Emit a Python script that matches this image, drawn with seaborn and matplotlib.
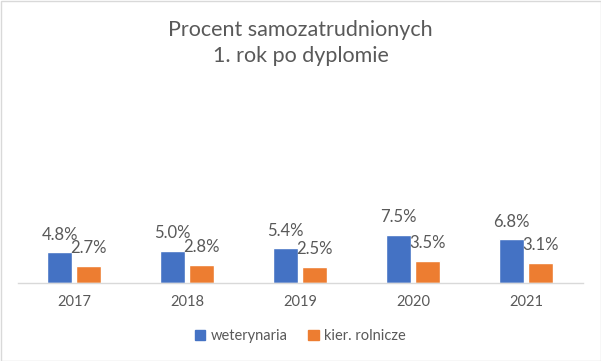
import matplotlib
matplotlib.use("Agg")
import matplotlib.pyplot as plt
import seaborn as sns
import pandas as pd
from matplotlib.patches import Rectangle

years = ["2017", "2018", "2019", "2020", "2021"]
weterynaria = [4.8, 5.0, 5.4, 7.5, 6.8]
rolnicze = [2.7, 2.8, 2.5, 3.5, 3.1]
series_names = ["weterynaria", "kier. rolnicze"]
title = "Procent samozatrudnionych\n1. rok po dyplomie"

df = pd.DataFrame({
    "rok": years * 2,
    "wartosc": weterynaria + rolnicze,
    "seria": [series_names[0]] * len(years) + [series_names[1]] * len(years),
})

sns.set_theme(style="white")
plt.rcParams['font.family'] = ['Lato', 'DejaVu Sans']
grey = "#595959"
colors = ["#4472C4", "#ED7D31"]

fig = plt.figure(figsize=(6.01, 3.61), dpi=100)
ax = fig.add_axes([17.5/601, (361-283)/361, 565/601, 192/361])

sns.barplot(data=df, x="rok", y="wartosc", hue="seria", palette=colors,
            width=0.504, gap=0.12, ax=ax, legend=False, saturation=1)

ax.set_ylim(0, 30)
ax.set_xlim(-0.5, len(years) - 0.5)
for c in ax.containers:
    ax.bar_label(c, fmt="%.1f%%", padding=7, fontsize=12, color=grey)

for s in ["top", "right", "left"]:
    ax.spines[s].set_visible(False)
ax.spines["bottom"].set_color("#D9D9D9")
ax.spines["bottom"].set_linewidth(1)
ax.set_yticks([])
ax.set_xlabel("")
ax.set_ylabel("")
ax.tick_params(axis="x", length=0, pad=9, labelsize=10.5, labelcolor=grey)

fig.text(0.5, 1 - 43/361, title, ha="center", va="center", fontsize=15.5,
         color=grey, linespacing=1.4)

handles = [Rectangle((0, 0), 1, 1, color=col) for col in colors]
fig.legend(handles, series_names, loc="center", bbox_to_anchor=(0.5, 1 - 336/361),
           ncol=2, frameon=False, fontsize=10.5, labelcolor=grey,
           handlelength=0.7, handleheight=0.7, handletextpad=0.4, columnspacing=1.4)

fig.patches.append(Rectangle((0.5/601, 0.5/361), 1 - 1/601, 1 - 1/361,
                             transform=fig.transFigure, fill=False,
                             edgecolor="#D9D9D9", linewidth=1))

fig.savefig("out.png", dpi=100)
